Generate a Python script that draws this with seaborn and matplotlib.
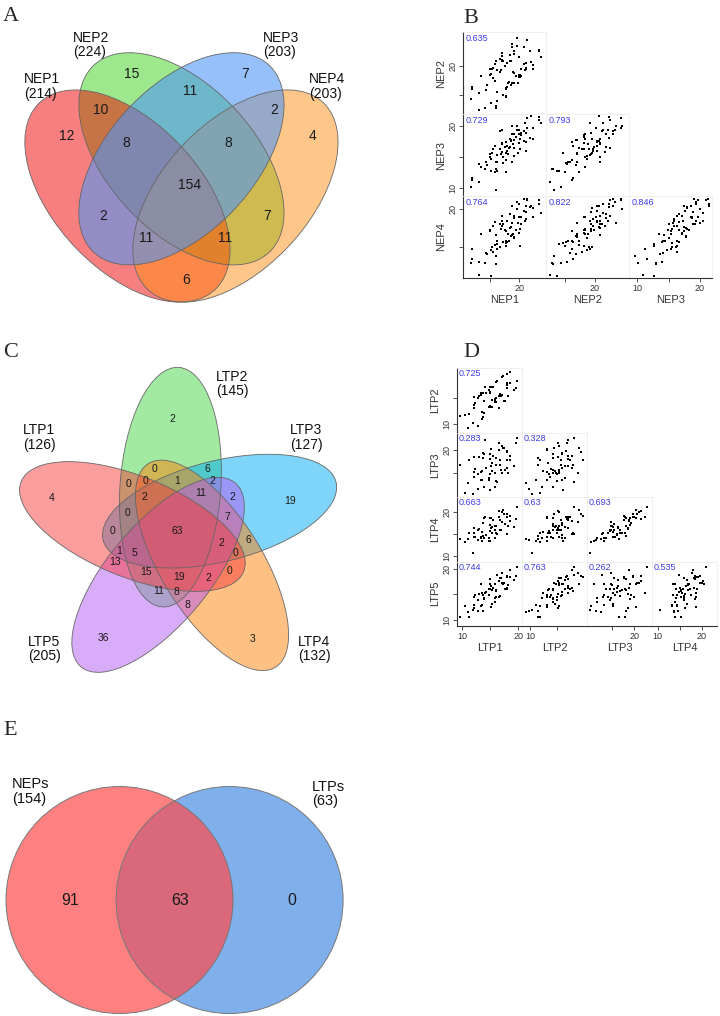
import numpy as np
import pandas as pd
import matplotlib
matplotlib.use("Agg")
import matplotlib.pyplot as plt
from matplotlib.patches import Ellipse, Circle
import seaborn as sns

sns.set_theme(style="white")
plt.rcParams['font.family'] = ['Liberation Sans', 'DejaVu Sans']

# ---------------- data ----------------
nep_names = ["NEP1", "NEP2", "NEP3", "NEP4"]
nep_sizes = [214, 224, 203, 203]
nep_region_counts = [15, 7, 10, 11, 2, 12, 8, 8, 4, 154, 2, 7, 11, 11, 6]

ltp_names = ["LTP1", "LTP2", "LTP3", "LTP4", "LTP5"]
ltp_sizes = [126, 145, 127, 132, 205]
ltp_region_counts = [2, 4, 19, 36, 3, 0, 6, 0, 0, 1, 2, 11, 2, 2, 0, 7,
                     0, 63, 6, 2, 1, 5, 0, 13, 15, 19, 2, 0, 11, 8, 8]

common_names = ["NEPs", "LTPs"]
common_sizes = [154, 63]
common_counts = [91, 63, 0]

# pairwise correlations, lower triangle row by row
nep_corr = [0.635, 0.729, 0.793, 0.764, 0.822, 0.846]
ltp_corr = [0.725, 0.283, 0.328, 0.663, 0.63, 0.693, 0.744, 0.763, 0.262, 0.535]

nep1 = [13.2, 11.8, 15.2, 12.0, 14.1, 12.0, 16.1, 14.3, 15.8, 13.2,
        17.8, 15.2, 16.2, 14.5, 17.7, 13.4, 16.3, 17.7, 15.5, 18.8,
        15.1, 17.3, 16.8, 18.1, 15.1, 18.0, 16.1, 20.2, 16.9, 17.8,
        19.1, 15.9, 18.2, 17.2, 20.0, 15.6, 19.1, 17.9, 19.0, 17.0,
        20.4, 17.5, 18.6, 21.1, 17.1, 19.5, 18.5, 20.4, 17.1, 20.2,
        19.2, 21.1, 18.5, 20.0, 17.1, 21.1, 19.2, 22.4, 18.7, 20.8,
        20.0, 22.3, 18.7, 21.0, 21.9, 19.7, 23.8, 20.8, 22.0, 19.6,
        23.4, 21.4, 23.4, 21.4, 16.0, 15.3, 19.8, 16.7, 16.3, 18.6]
nep2 = [12.4, 14.3, 13.6, 16.3, 12.8, 16.1, 12.9, 15.9, 17.4, 15.3,
        14.9, 18.6, 15.5, 16.8, 14.7, 18.3, 19.2, 16.1, 17.9, 17.0,
        19.4, 15.1, 19.0, 17.0, 18.4, 16.4, 20.8, 18.1, 19.3, 16.2,
        18.7, 20.3, 17.3, 20.8, 18.1, 19.6, 17.0, 20.4, 18.9, 21.7,
        18.2, 19.9, 16.8, 19.6, 20.8, 18.2, 21.8, 19.4, 20.9, 18.4,
        22.5, 19.4, 20.8, 18.4, 22.2, 20.4, 21.9, 19.5, 23.6, 20.3,
        21.4, 20.1, 23.1, 19.2, 22.4, 23.3, 21.4, 23.1, 20.6, 24.6,
        22.6, 24.4, 22.4, 24.3, 13.1, 19.5, 17.0, 21.1, 14.0, 20.7]
nep3 = [11.0, 10.1, 12.7, 11.6, 13.0, 11.2, 13.0, 14.1, 12.6, 13.9,
        12.6, 14.7, 14.1, 13.7, 15.6, 13.4, 15.3, 14.5, 16.3, 14.2,
        15.4, 14.0, 16.2, 15.4, 14.9, 16.7, 14.2, 16.3, 15.5, 17.4,
        15.1, 16.7, 16.4, 15.0, 17.2, 16.3, 17.7, 15.9, 17.1, 15.8,
        18.5, 16.6, 17.7, 15.9, 17.3, 18.2, 16.6, 18.8, 17.1, 17.9,
        16.4, 18.9, 17.8, 18.7, 19.3, 17.4, 18.7, 17.9, 20.0, 17.6,
        19.3, 19.7, 18.6, 20.4, 18.0, 19.4, 20.5, 19.1, 21.5, 20.0,
        21.0, 19.7, 21.4, 21.3, 9.6, 15.6, 15.7, 19.2, 12.7, 17.5]
nep4 = [11.2, 12.8, 11.1, 13.4, 12.8, 14.7, 12.7, 14.2, 15.2, 12.9,
        15.1, 14.5, 15.7, 14.0, 15.5, 16.7, 14.7, 15.7, 14.3, 16.6,
        17.1, 15.6, 15.0, 16.7, 17.3, 15.6, 16.6, 15.1, 17.4, 17.1,
        16.2, 18.3, 15.8, 18.0, 16.9, 17.8, 16.3, 18.5, 16.7, 17.8,
        19.0, 17.2, 16.4, 18.7, 18.4, 17.2, 19.4, 18.1, 19.1, 17.4,
        19.1, 19.7, 17.5, 19.0, 18.4, 20.5, 18.8, 20.2, 18.2, 19.8,
        20.7, 19.0, 20.4, 18.5, 20.3, 21.0, 19.5, 21.4, 20.5, 20.0,
        21.3, 21.2, 20.7, 21.4, 13.8, 14.9, 18.2, 18.1, 15.3, 17.7]

ltp1 = [11.0, 9.6, 12.8, 11.3, 12.2, 10.5, 13.7, 12.1, 13.5, 15.1,
        12.4, 13.9, 12.2, 14.8, 14.0, 13.5, 15.9, 13.1, 14.9, 15.8,
        13.8, 15.4, 12.9, 16.0, 14.9, 16.6, 14.2, 16.1, 15.0, 17.7,
        14.1, 15.9, 16.8, 15.2, 17.4, 14.8, 16.8, 16.1, 18.2, 15.6,
        17.0, 15.0, 18.1, 16.6, 18.1, 16.3, 18.0, 19.3, 17.3, 18.5,
        17.1, 19.6, 18.5, 19.8, 18.0, 11.9, 15.3, 13.3, 17.2, 13.4]
ltp2 = [9.3, 11.5, 9.7, 11.9, 13.1, 11.8, 11.4, 13.7, 11.1, 13.2,
        13.9, 12.2, 15.1, 13.2, 14.3, 12.3, 14.2, 15.2, 13.4, 14.3,
        15.9, 13.3, 15.0, 14.2, 16.1, 13.1, 15.9, 15.0, 15.9, 14.3,
        17.0, 14.8, 15.7, 16.9, 14.4, 16.4, 15.7, 17.9, 15.3, 16.9,
        15.3, 16.9, 17.7, 15.2, 17.4, 18.1, 16.7, 16.4, 19.1, 17.7,
        18.8, 16.8, 19.7, 18.1, 19.4, 10.3, 14.5, 15.8, 15.4, 15.4]
ltp3 = [12.7, 16.6, 11.4, 17.9, 15.2, 10.5, 18.2, 14.1, 13.4, 20.4,
        15.8, 11.7, 18.6, 13.4, 19.1, 15.3, 11.7, 18.6, 14.7, 14.8,
        19.4, 17.2, 14.6, 18.2, 11.0, 20.0, 16.1, 13.0, 19.2, 15.6,
        22.4, 14.8, 16.8, 16.5, 20.6, 13.8, 17.8, 16.8, 15.0, 18.8,
        15.6, 18.1, 16.1, 21.6, 17.9, 12.9, 19.8, 16.4, 20.5, 18.8,
        14.9, 21.6, 17.8, 22.8, 19.7, 10.2, 15.3, 13.4, 21.0, 15.2]
ltp4 = [13.8, 13.9, 13.6, 15.3, 14.3, 13.2, 14.6, 15.3, 13.3, 18.7,
        14.3, 14.2, 16.3, 13.4, 18.6, 15.5, 14.0, 16.2, 15.8, 15.9,
        17.5, 15.3, 16.0, 16.9, 13.4, 18.8, 14.8, 15.3, 17.1, 17.4,
        18.8, 16.8, 16.0, 16.4, 19.6, 14.1, 18.2, 15.3, 16.8, 18.3,
        16.0, 18.6, 15.1, 20.4, 18.9, 14.9, 18.8, 16.6, 20.5, 18.1,
        17.7, 18.4, 19.1, 21.1, 19.7, 10.6, 16.6, 14.0, 20.1, 14.3]
ltp5 = [11.5, 10.5, 11.8, 10.5, 13.0, 12.7, 11.8, 14.5, 12.9, 12.6,
        14.8, 14.2, 12.3, 14.8, 14.0, 15.3, 13.4, 15.1, 16.1, 14.2,
        14.8, 15.9, 13.8, 15.8, 17.0, 14.5, 15.5, 14.4, 17.0, 16.1,
        15.2, 17.1, 14.6, 16.6, 17.2, 16.0, 18.1, 15.6, 16.9, 16.3,
        18.2, 17.9, 16.3, 17.5, 16.1, 18.7, 18.3, 17.7, 17.1, 19.7,
        19.2, 18.6, 18.3, 20.4, 18.5, 11.9, 13.1, 17.1, 17.2, 12.7]

nep_df = pd.DataFrame({"NEP1": nep1, "NEP2": nep2, "NEP3": nep3, "NEP4": nep4})
ltp_df = pd.DataFrame({"LTP1": ltp1, "LTP2": ltp2, "LTP3": ltp3,
                       "LTP4": ltp4, "LTP5": ltp5})

# ---------------- layout ----------------
W, H = 720, 1016
fig = plt.figure(figsize=(W / 100, H / 100), dpi=100)


def px_axes(x, y, w, h):
    return fig.add_axes([x / W, 1 - (y + h) / H, w / W, h / H])


def panel_letter(s, x, y):
    fig.text(x / W, 1 - y / H, s, fontsize=16, family='Liberation Serif',
             ha='left', va='baseline')


def set_label(ax, name, size, x, y, fs=10):
    ax.text(x, y, f"{name}\n({size})", ha='left', va='center', fontsize=fs,
            color='#111111', linespacing=1.05, multialignment='left')


# ---- A: 4-set Venn ----
axA = px_axes(0, 30, 360, 290)
axA.set_xlim(-0.004, 0.996)
axA.set_ylim(0.137, 0.916)
axA.axis('off')
A_shapes = [((0.35, 0.47), -45), ((0.5, 0.57), -45), ((0.5, 0.57), 45), ((0.65, 0.47), 45)]
A_colors = ['#F00000', '#3CD11A', '#5096F5', '#FF8F15']
A_alpha = [0.5, 0.5, 0.6, 0.5]
for k in [1, 0, 3, 2]:
    c, ang = A_shapes[k]
    axA.add_patch(Ellipse(c, 0.7, 0.4, angle=ang, facecolor=A_colors[k],
                          alpha=A_alpha[k], edgecolor='none'))
for c, ang in A_shapes:
    axA.add_patch(Ellipse(c, 0.7, 0.4, angle=ang, fill=False,
                          edgecolor='#666666', lw=0.6))
A_pos = [(0.362, 0.798), (0.676, 0.798), (0.276, 0.701), (0.523, 0.752),
         (0.759, 0.701), (0.182, 0.631), (0.346, 0.612), (0.629, 0.612),
         (0.865, 0.631), (0.523, 0.500), (0.282, 0.416), (0.737, 0.416),
         (0.401, 0.357), (0.621, 0.357), (0.512, 0.244)]
for n, (x, y) in zip(nep_region_counts, A_pos):
    axA.text(x, y, str(n), ha='center', va='center', fontsize=10, color='#1a1a1a')
A_lab = [(0.062, 0.764), (0.198, 0.876), (0.726, 0.876), (0.854, 0.764)]
for name, size, (x, y) in zip(nep_names, nep_sizes, A_lab):
    set_label(axA, name, size, x, y)

# ---- C: 5-set Venn ----
axC = px_axes(0, 340, 360, 350)
axC.set_xlim(-1.4875, 1.5125)
axC.set_ylim(-1.308, 1.608)
axC.axis('off')
C_phi = [172, 100, 28, -44, -116]
C_colors = ['#F53C3C', '#46D746', '#00AAF5', '#FF820A', '#B45AF5']
C_alpha = [0.5, 0.5, 0.5, 0.5, 0.5]
C_shapes = []
for phi in C_phi:
    t = np.deg2rad(phi)
    C_shapes.append(((0.388 * np.cos(t), 0.388 * np.sin(t)), phi - 14))
for k in [1, 2, 3, 4, 0]:
    c, ang = C_shapes[k]
    axC.add_patch(Ellipse(c, 2.0, 0.84, angle=ang, facecolor=C_colors[k],
                          alpha=C_alpha[k], edgecolor='none'))
for c, ang in C_shapes:
    axC.add_patch(Ellipse(c, 2.0, 0.84, angle=ang, fill=False,
                          edgecolor='#666666', lw=0.6))
C_pos = [(-0.054, 0.95), (-1.054, 0.292), (0.929, 0.267), (-0.629, -0.875),
         (0.621, -0.883), (-0.196, 0.533), (0.238, 0.533), (-0.413, 0.408),
         (-0.279, 0.433), (-0.013, 0.433), (0.279, 0.433), (0.188, 0.333),
         (0.446, 0.3), (-0.288, 0.3), (-0.421, 0.167), (0.404, 0.133),
         (-0.554, 0.017), (-0.013, 0.017), (0.579, -0.058), (0.354, -0.083),
         (-0.496, -0.15), (-0.363, -0.167), (0.479, -0.167), (-0.529, -0.242),
         (-0.271, -0.325), (0.004, -0.367), (0.246, -0.375), (0.429, -0.317),
         (-0.163, -0.483), (-0.021, -0.492), (0.071, -0.6)]
for n, (x, y) in zip(ltp_region_counts, C_pos):
    axC.text(x, y, str(n), ha='center', va='center', fontsize=7.5, color='#1a1a1a')
C_lab = [(-1.298, 0.796), (0.312, 1.242), (0.929, 0.796), (0.993, -0.967), (-1.252, -0.967)]
for name, size, (x, y) in zip(ltp_names, ltp_sizes, C_lab):
    set_label(axC, name, size, x, y)

# ---- E: 2-set Venn ----
axE = px_axes(0, 740, 360, 276)
axE.set_xlim(-1.538, 1.634)
axE.set_ylim(-1.022, 1.41)
axE.axis('off')
axE.add_patch(Circle((0.485, 0), 1.0, facecolor='#80B0EB', edgecolor='none'))
axE.add_patch(Circle((-0.485, 0), 1.0, facecolor='#FF4A4A', alpha=0.7, edgecolor='none'))
for cx in (-0.485, 0.485):
    axE.add_patch(Circle((cx, 0), 1.0, fill=False, edgecolor='#777777', lw=0.7))
for n, x in zip(common_counts, [-0.921, 0.048, 1.034]):
    axE.text(x, 0.0, str(n), ha='center', va='center', fontsize=11.5, color='#1a1a1a')
for name, size, (x, y) in zip(common_names, common_sizes, [(-1.433, 0.956), (1.211, 0.934)]):
    set_label(axE, name, size, x, y, fs=10.5)


# ---- B / D: scatter matrices ----
def pairs(df, names, corr, lims, ticks, left, top, cw, ch):
    n = len(names)
    k = 0
    for i in range(1, n):
        for j in range(i):
            ax = px_axes(left + j * cw, top + (i - 1) * ch, cw, ch)
            sns.scatterplot(data=df, x=names[j], y=names[i], ax=ax, s=4,
                            marker='s', color='black', linewidth=0, legend=False)
            ax.set_xlim(lims[names[j]])
            ax.set_ylim(lims[names[i]])
            for sp in ax.spines.values():
                sp.set_color('#ececec')
                sp.set_linewidth(0.6)
            ax.set_xlabel('')
            ax.set_ylabel('')
            ax.set_xticks([])
            ax.set_yticks([])
            if j == 0:
                ax.spines['left'].set_color('#333333')
                ax.spines['left'].set_linewidth(0.8)
                tv = ticks[names[i]]
                ax.set_yticks(tv)
                ax.set_yticklabels([str(t) if t % 10 == 0 else '' for t in tv],
                                   rotation=90, va='center')
                ax.tick_params(axis='y', left=True, length=3, width=0.6,
                               color='#333333', labelsize=6.5, pad=1,
                               labelcolor='#333333')
                ax.set_ylabel(names[i], fontsize=8, color='#333333', labelpad=2)
            if i == n - 1:
                ax.spines['bottom'].set_color('#333333')
                ax.spines['bottom'].set_linewidth(0.8)
                tv = ticks[names[j]]
                ax.set_xticks(tv)
                ax.set_xticklabels([str(t) if t % 10 == 0 else '' for t in tv])
                ax.tick_params(axis='x', bottom=True, length=3, width=0.6,
                               color='#333333', labelsize=6.5, pad=1,
                               labelcolor='#333333')
                ax.set_xlabel(names[j], fontsize=8, color='#333333', labelpad=2)
            ax.text(0.03, 0.98, str(corr[k]), transform=ax.transAxes, ha='left',
                    va='top', fontsize=6.5, color='#3C3CE6')
            k += 1


nep_lims = {"NEP1": (10.4, 24.6), "NEP2": (11.8, 25.7),
            "NEP3": (8.7, 21.9), "NEP4": (10.8, 21.8)}
nep_ticks = {"NEP1": [15, 20], "NEP2": [15, 20], "NEP3": [10, 15, 20], "NEP4": [15, 20]}
pairs(nep_df, nep_names, nep_corr, nep_lims, nep_ticks, 463, 32, 83, 82)

ltp_lims = {"LTP1": (9.1, 20.7), "LTP2": (8.5, 20.5), "LTP3": (9.5, 24.0),
            "LTP4": (8.7, 23.5), "LTP5": (8.8, 21.4)}
ltp_ticks = {"LTP1": [10, 15, 20], "LTP2": [10, 15], "LTP3": [15, 20],
             "LTP4": [10, 15, 20], "LTP5": [10, 15, 20]}
pairs(ltp_df, ltp_names, ltp_corr, ltp_lims, ltp_ticks, 457, 368, 65, 64.5)

panel_letter("A", 3, 21)
panel_letter("B", 463, 23)
panel_letter("C", 3, 357)
panel_letter("D", 463, 357)
panel_letter("E", 3, 735)

fig.savefig("out.png", dpi=100)
